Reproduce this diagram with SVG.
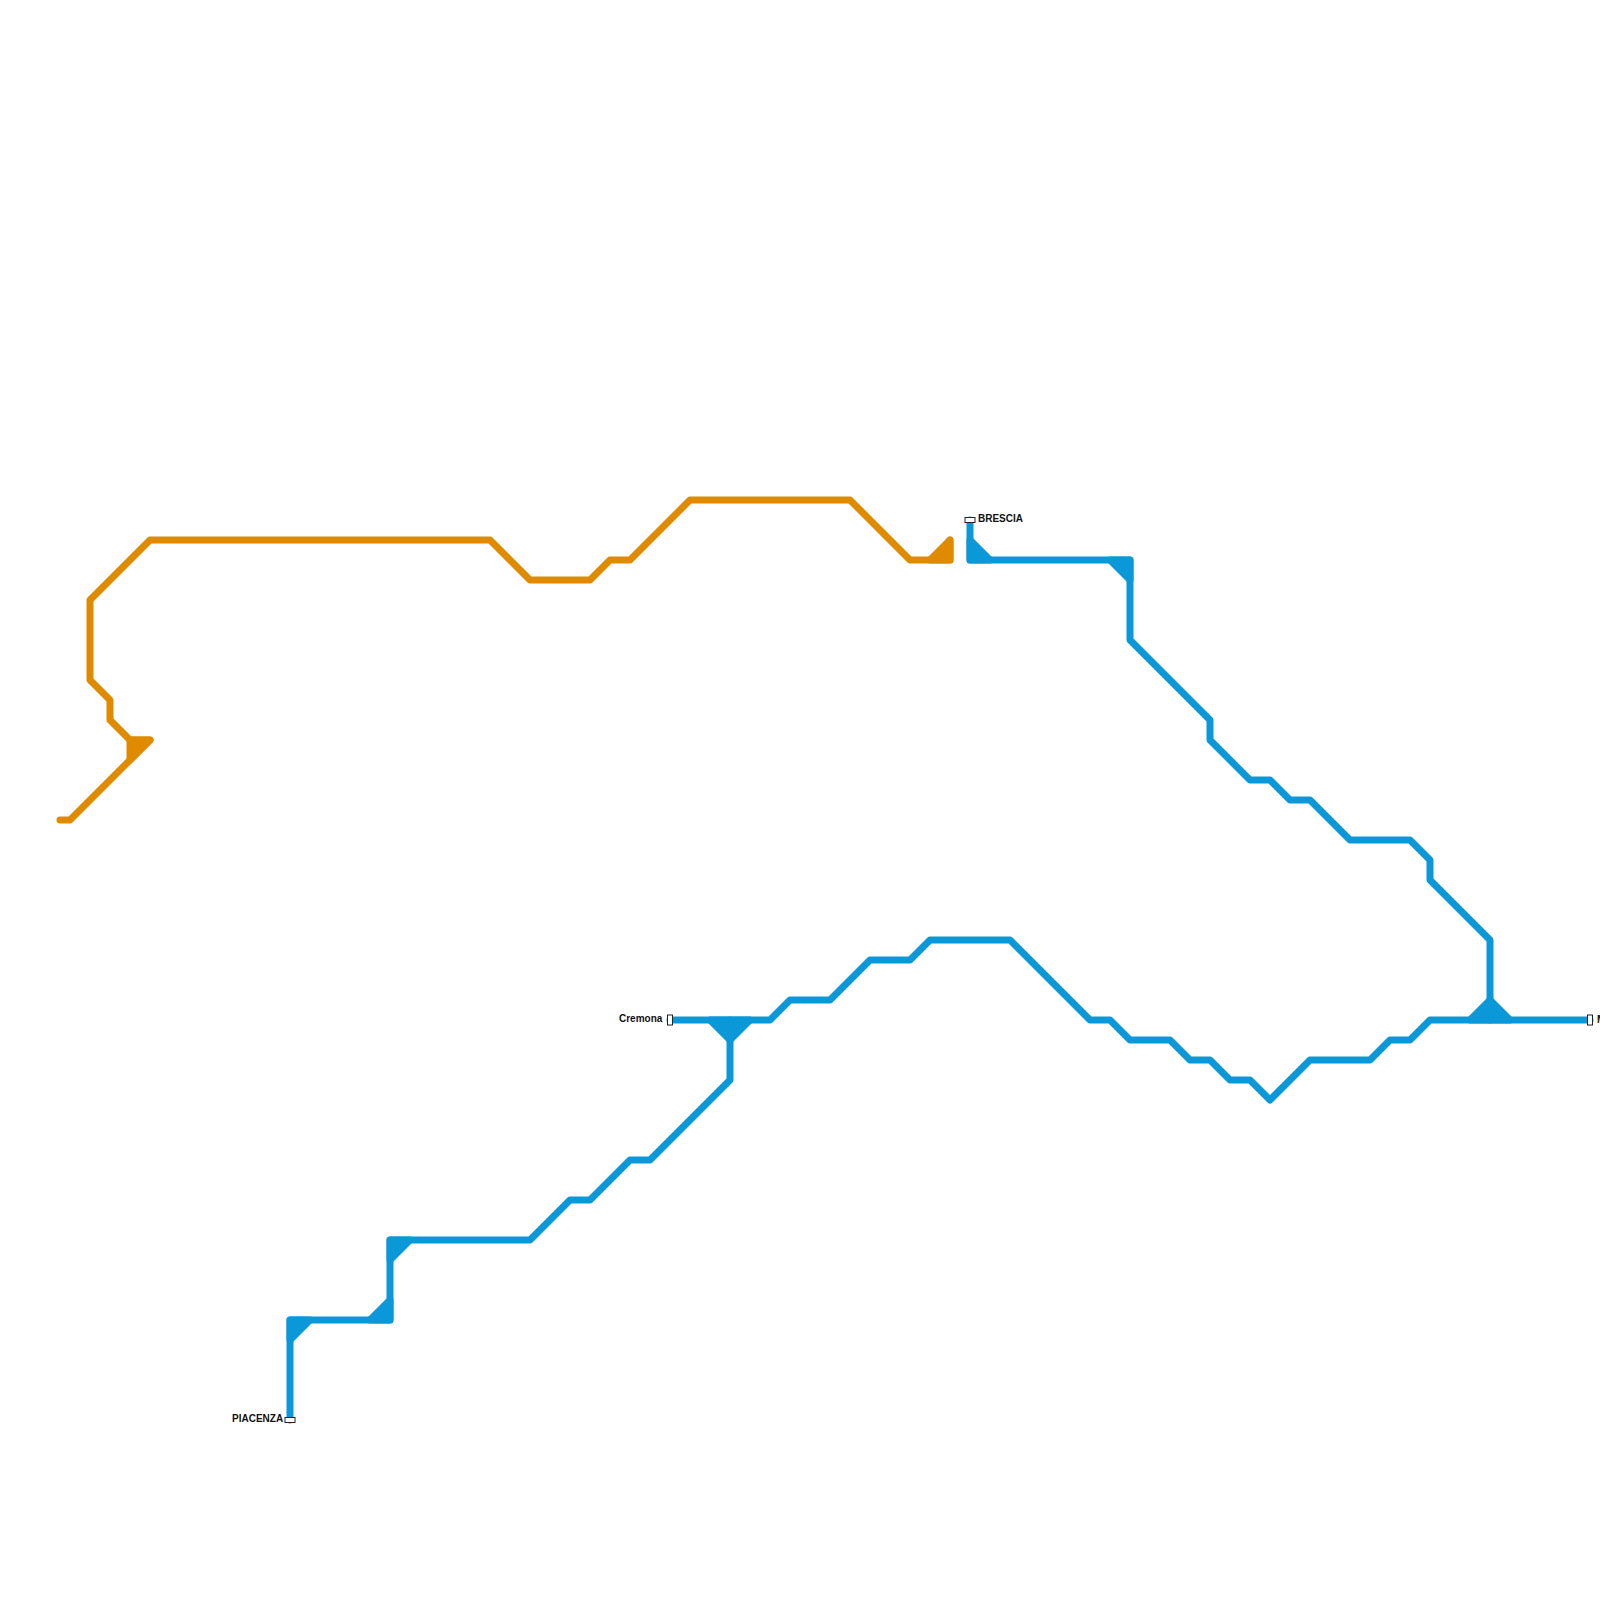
<svg xmlns="http://www.w3.org/2000/svg" width="1600" height="1600" viewBox="0 0 1600 1600">
<style>
.l{fill:none;stroke-width:7;stroke-linejoin:round;stroke-linecap:round}
.t{stroke-width:7;stroke-linejoin:round}
.o{stroke:#e08a00}
.b{stroke:#0a98d9}
.to{fill:#e08a00}
.tb{fill:#0a98d9}
.s{fill:#fff;stroke:#222;stroke-width:1}
text{font-family:"Liberation Sans",Arial,sans-serif;font-size:10px;font-weight:bold;fill:#111}
</style>
<rect width="1600" height="1600" fill="#fff"/>
<g id="connectors">
<path class="l o" d="M60 820H70L150 740H130L110 720V700L90 680V600L150 540H490L530 580H590L610 560H630L690 500H850L910 560H950V540"/>
<path class="t o to" d="M130 740H150L130 760Z"/>
<path class="t o to" d="M930 560H950V540Z"/>
<path class="l b" d="M970 520V560H1130V640L1210 720V740L1250 780H1270L1290 800H1310L1350 840H1410L1430 860V880L1490 940V1020"/>
<path class="l b" d="M1590 1020H1430L1410 1040H1390L1370 1060H1310L1270 1100L1250 1080H1230L1210 1060H1190L1170 1040H1130L1110 1020H1090L1010 940H930L910 960H870L830 1000H790L770 1020H670"/>
<path class="l b" d="M730 1020V1080L650 1160H630L590 1200H570L530 1240H390V1320H290V1420"/>
<path class="t b tb" d="M970 540L990 560H970Z"/>
<path class="t b tb" d="M1110 560H1130V580Z"/>
<path class="t b tb" d="M1470 1020H1510L1490 1000Z"/>
<path class="t b tb" d="M710 1020H750L730 1040Z"/>
<path class="t b tb" d="M390 1240H410L390 1260Z"/>
<path class="t b tb" d="M370 1320H390V1300Z"/>
<path class="t b tb" d="M290 1320H310L290 1340Z"/>
</g>
<g id="brescia"><rect class="s" x="965" y="517.500" width="10" height="5"/><text x="978" y="522">BRESCIA</text></g>
<g id="cremona"><rect class="s" x="667.500" y="1015" width="5" height="10"/><text x="619" y="1022">Cremona</text></g>
<g id="piacenza"><rect class="s" x="285" y="1417.500" width="10" height="5"/><text x="232" y="1422">PIACENZA</text></g>
<g id="east"><rect class="s" x="1587.500" y="1015" width="5" height="10"/><text x="1597" y="1023">M</text></g>
</svg>
